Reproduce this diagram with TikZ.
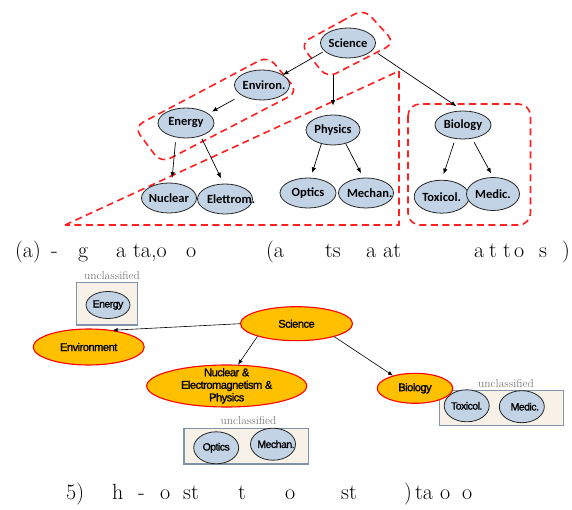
\documentclass[tikz,border=0pt]{standalone}
\usepackage{fontspec}
\usetikzlibrary{arrows.meta,shapes.geometric}
\newfontfamily\taxfont{Carlito}
\newfontfamily\outfont{Liberation Sans}[LetterSpace=-5, FakeBold=1.2]
\definecolor{nodeblue}{HTML}{C3D3E6}
\definecolor{dashred}{HTML}{FF1F1F}
\definecolor{gold}{HTML}{FFC000}
\definecolor{boxfill}{HTML}{F7F1E8}
\definecolor{boxedge}{HTML}{8193A8}
\definecolor{labelgray}{HTML}{7A7A7A}
\tikzset{
  tax/.style={ellipse, draw=black!85, line width=0.8pt, fill=nodeblue,
    minimum width=55pt, minimum height=30pt, inner sep=0pt,
    font=\taxfont\bfseries\fontsize{12.5}{14}\selectfont},
  grp/.style={draw=dashred, line width=1.6pt, dash pattern=on 7pt off 4.5pt},
  arr/.style={-{Latex[length=5.5pt,width=4.5pt]}, line width=0.7pt},
  sarr/.style={-{Latex[length=5pt,width=4pt]}, line width=0.6pt},
  outer/.style={ellipse, draw=red, line width=1.1pt, fill=gold, inner sep=0pt,
    font=\outfont\fontsize{11.2}{12.5}\selectfont},
  leaf/.style={ellipse, draw=black!85, line width=0.8pt, fill=nodeblue,
    minimum width=45pt, minimum height=32pt, inner sep=0pt,
    font=\outfont\fontsize{10.5}{12}\selectfont},
  ubox/.style={rectangle, draw=boxedge, line width=1.5pt, fill=boxfill, inner sep=0pt},
  utag/.style={font=\fontsize{11.5}{13}\selectfont, text=labelgray, inner sep=0pt},
  captext/.style={anchor=base west, inner sep=0pt, font=\fontsize{22}{26}\selectfont},
}
\begin{document}
\begin{tikzpicture}[x=1pt, y=-1pt]
\useasboundingbox (0,0) rectangle (572,510);

% ---------- (a) taxonomy with its dashed partitions ----------
\draw[grp, rounded corners=10pt] (332,26.5) -- (364,9) -- (395,43) -- (327,78) -- (300,44) -- cycle;
\draw[grp, rounded corners=10pt] (201,91.5) -- (268,56) -- (298,92) -- (161,163) -- (134,127) -- cycle;
\draw[grp] (65,225) -- (399,71) -- (399,225) -- cycle;
\draw[grp, rounded corners=12pt] (408,104) rectangle (530.5,225);

\node[tax] (sci) at (348,43) {\makebox[0pt]{Science}};
\node[tax] (env) at (262,85) {\makebox[0pt]{\hspace{4pt}Environ.}};
\node[tax, minimum width=56pt] (ener) at (186,123) {\makebox[0pt]{Energy}};
\node[tax, minimum width=54pt] (phy) at (333,130) {\makebox[0pt]{Physics}};
\node[tax] (nuc) at (169,198) {\makebox[0pt]{Nuclear}};
\node[tax] (ele) at (225,199) {\makebox[0pt][l]{\hspace{-18pt}Elettrom.}};
\node[tax, minimum width=56pt] (opt) at (308,193) {\makebox[0pt]{Optics}};
\node[tax] (mec) at (366,193) {\makebox[0pt][l]{\hspace{-19pt}Mechan.}};
\node[tax, minimum width=56pt, minimum height=28pt] (bio) at (463,125) {\makebox[0pt]{Biology}};
\node[tax, minimum height=33pt] (tox) at (441.7,196.7) {\makebox[0pt]{Toxicol.}};
\node[tax, minimum width=53pt, minimum height=33pt] (med) at (493,194) {\makebox[0pt]{Medic.}};

\draw[arr, shorten <=2pt] (sci.199) -- (env.26);
\draw[arr, shorten <=17pt, shorten >=9pt] (sci.south -| phy.north) -- (phy.north);
\draw[arr, shorten <=6pt, shorten >=8pt] (sci.344) -- (bio.north);
\draw[arr, shorten <=8pt, shorten >=4pt] (env.207) -- (ener.23);
\draw[arr, shorten <=5pt, shorten >=5pt] (ener.235) -- (nuc.80);
\draw[arr, shorten <=3pt, shorten >=6pt] (ener.318) -- (ele.95);
\draw[arr, shorten >=5pt] (phy.230) -- (opt.80);
\draw[arr, shorten >=5pt] (phy.313) -- (mec.100);
\draw[arr, shorten <=4pt, shorten >=6pt] (bio.241) -- (tox.north);
\draw[arr, shorten <=4pt, shorten >=4pt] (bio.304) -- (med.north);

% caption (a)
\node[captext] (ca1) at (15,258) {(a)};
\node[captext] (ca2) at (51,258) {-};
\node[captext] (ca3) at (78,258) {g};
\node[captext] (ca4) at (116,258) {a};
\node[captext] (ca5) at (133,258) {ta,o};
\node[captext] (ca6) at (186,258) {o};
\node[captext] (ca7) at (266,258) {(a};
\node[captext] (ca8) at (325,258) {ts};
\node[captext] (ca9) at (366,258) {a};
\node[captext] (ca10) at (383,258) {at};
\node[captext] (ca11) at (474,258) {a};
\node[captext] (ca12) at (489,258) {t};
\node[captext] (ca13) at (503,258) {t};
\node[captext] (ca14) at (514,258) {o};
\node[captext] (ca15) at (539,258) {s};
\node[captext] (ca16) at (562,258) {)};

% ---------- (b) output of the algorithm ----------
\node[ubox, minimum width=60.6pt, minimum height=42.7pt] (boxa) at (107,303.7) {};
\node[utag] (taga) at (112,276) {unclassified};
\node[leaf, minimum width=44pt, minimum height=27pt] (enerb) at (108,305) {\makebox[0pt]{Energy}};

\node[ubox, minimum width=124pt, minimum height=35pt] (boxb) at (501.3,408.2) {};
\node[utag] (tagb) at (506,384) {unclassified};
\node[leaf] (toxb) at (466.7,405.8) {\makebox[0pt]{Toxicol.}};
\node[leaf] (medb) at (521.8,406.7) {\makebox[0pt]{\hspace{6pt}Medic.}};

\node[ubox, minimum width=124.3pt, minimum height=35.7pt] (boxc) at (246.2,446.2) {};
\node[utag] (tagc) at (248.6,421) {unclassified};
\node[leaf] (optb) at (216.2,447.8) {\makebox[0pt]{Optics}};
\node[leaf] (mecb) at (273,444.2) {\makebox[0pt]{\hspace{6pt}Mechan.}};

\node[outer, minimum width=112pt, minimum height=34pt] (scib) at (296.5,323.7) {\makebox[0pt]{Science}};
\node[outer, minimum width=111pt, minimum height=36pt] (envb) at (88.7,347) {\makebox[0pt]{Environment}};
\node[outer, minimum width=160pt, minimum height=42pt] (nucb) at (226.7,386)
  {\makebox[0pt]{\raisebox{-3pt}[0pt][0pt]{\begin{tabular}{@{}c@{}}Nuclear \&\\Electromagnetism \&\\Physics\end{tabular}}}};
\node[outer, minimum width=75.4pt, minimum height=30pt] (biob) at (415,388.3) {\makebox[0pt]{Biology}};

\draw[sarr] (scib.west) -- (envb.35);
\draw[sarr] (scib.198) -- (nucb.62);
\draw[sarr] (scib.341) -- (biob.150);

% caption (b)
\node[captext] (cb1) at (66,499) {5)};
\node[captext] (cb2) at (112,499) {h};
\node[captext] (cb3) at (138,499) {-};
\node[captext] (cb4) at (160,499) {o};
\node[captext] (cb5) at (183,499) {st};
\node[captext] (cb6) at (238,499) {t};
\node[captext] (cb7) at (285,499) {o};
\node[captext] (cb8) at (341,499) {st};
\node[captext] (cb9) at (404,499) {)};
\node[captext] (cb10) at (415,499) {ta};
\node[captext] (cb11) at (440,499) {o};
\node[captext] (cb12) at (462,499) {o};
\end{tikzpicture}
\end{document}
